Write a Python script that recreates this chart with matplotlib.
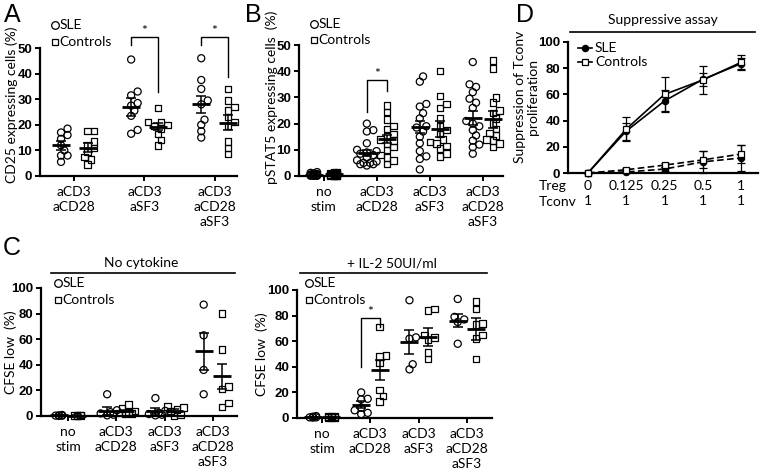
import matplotlib
matplotlib.use("Agg")
import matplotlib.pyplot as plt
import numpy as np

plt.rcParams['font.family'] = ['Lato', 'DejaVu Sans']

# ---------------- data ----------------
A_categories = ["aCD3\naCD28", "aCD3\naSF3", "aCD3\naCD28\naSF3"]
A_sle = [[18.5, 17, 16, 14.5, 12, 10, 8, 8, 5.5],
         [45.5, 33, 31.5, 28.5, 27.5, 25.5, 23.5, 18, 16.5],
         [46, 37.5, 34, 29.5, 28, 22, 20, 17.5, 15]]
A_ctrl = [[17.5, 17.5, 13.5, 12, 11, 9.5, 7.5, 6.5, 4.5],
          [26.5, 21, 21, 20, 19.5, 18.5, 16.5, 14, 12],
          [34, 29.5, 27, 25.5, 23, 21, 19.5, 13.5, 11, 8.5]]
A_sle_mean = [12, 27, 28]
A_sle_sem = [1.8, 3.5, 3.4]
A_ctrl_mean = [11, 19.3, 20.8]
A_ctrl_sem = [1.8, 1.4, 2.9]

B_categories = ["no\nstim", "aCD3\naCD28", "aCD3\naSF3", "aCD3\naCD28\naSF3"]
B_sle = [[1.5, 1.2, 1, 0.8, 0.6, 0.5, 0.4, 0.3, 0.3, 0.2, 0.2, 0.1, 0.1, 0.1, 0.1],
         [20, 17.5, 17, 12.5, 10, 9.5, 9, 8.5, 8, 7, 6, 5.5, 5, 5, 4.5, 4.5, 4],
         [38, 36, 27.5, 26.5, 24, 22, 19, 18.5, 17, 15, 12.5, 9.5, 7.5, 6.5, 2.5],
         [43.5, 35, 34, 32, 29.5, 28, 26, 20, 19, 21, 17.5, 15.5, 13.5, 12, 11, 8.5]]
B_ctrl = [[1.5, 1.5, 1.2, 1, 0.8, 0.6, 0.5, 0.4, 0.3, 0.2, 0.2, 0.1, 0.1, 0.1],
          [27, 24.5, 21.5, 19, 18, 16, 15, 14, 13.5, 12.5, 11, 10, 8, 7, 6, 4.5],
          [40, 30.5, 27.5, 26, 22, 19, 17.5, 16, 14, 13, 12.5, 11.5, 10.5, 8.5, 7.5],
          [44, 41, 30, 28, 25, 24, 22, 20, 18, 16.5, 15.5, 14, 13.5, 12.5, 11]]
B_sle_mean = [0.5, 8.8, 18.6, 22.2]
B_sle_sem = [0.15, 1.3, 2.3, 2.8]
B_ctrl_mean = [0.6, 14.2, 18, 21.6]
B_ctrl_sem = [0.15, 1.6, 3, 3.2]

C_categories = ["no\nstim", "aCD3\naCD28", "aCD3\naSF3", "aCD3\naCD28\naSF3"]
CL_sle = [[0.8, 0.5, 0.3, 0.2, 0.1], [17, 4.5, 3, 2, 1, 0.5],
          [14, 4, 2.5, 1.5, 1, 0.5], [87, 63, 36, 17]]
CL_ctrl = [[0.6, 0.4, 0.3, 0.2, 0.1], [9, 6, 4, 3, 2.5, 2, 1.5],
           [7.5, 6.5, 5, 4, 1, 0.5], [80, 52, 23, 21, 10, 7]]
CL_sle_mean = [0.4, 4, 3.9, 50.5]
CL_sle_sem = [0.2, 3, 2.1, 14.5]
CL_ctrl_mean = [0.3, 4, 4.2, 31]
CL_ctrl_sem = [0.1, 1, 1.2, 10]

CR_sle = [[1.5, 1, 0.5, 0.5, 0.3], [20, 15, 14.5, 8, 6, 4, 3],
          [92, 63, 62, 42, 38], [93, 79, 77, 75, 58]]
CR_ctrl = [[1.5, 1.2, 1, 0.8, 0.5, 0.3, 0.2], [71, 49, 48, 43, 22, 17, 13],
           [85, 84, 65, 63, 61, 51, 46], [91, 85, 74, 73, 65, 62, 46]]
CR_sle_mean = [0.7, 10.5, 59.5, 76]
CR_sle_sem = [0.3, 2.8, 9.5, 5.2]
CR_ctrl_mean = [0.8, 37.5, 63.5, 69.5]
CR_ctrl_sem = [0.2, 7.8, 7, 8.5]

D_treg = ["0", "0.125", "0.25", "0.5", "1"]
D_tconv = ["1", "1", "1", "1", "1"]
D_sle_solid = [0, 32, 55, 71.5, 83.5]
D_sle_solid_err = [0, 6.5, 8.5, 5, 4]
D_ctrl_solid = [0, 33.5, 60, 71, 84.5]
D_ctrl_solid_err = [0, 9, 13, 11, 5.5]
D_sle_dashed = [0, 0.8, 3, 8.5, 11.5]
D_sle_dashed_err = [0, 0.5, 1.5, 8.5, 10]
D_ctrl_dashed = [0, 2.5, 6, 10, 14.5]
D_ctrl_dashed_err = [0, 1, 1.5, 6.5, 7]

# ---------------- layout ----------------
W, H = 762, 474
fig = plt.figure(figsize=(W / 100, H / 100), dpi=100)


def add_ax(l, t, r, b):
    return fig.add_axes([l / W, 1 - b / H, (r - l) / W, (b - t) / H])


TICKFONT = dict(family='Liberation Sans', weight='bold', size=9.5)
FS = 10


def style_axes(ax):
    for s in ['top', 'right']:
        ax.spines[s].set_visible(False)
    for s in ['left', 'bottom']:
        ax.spines[s].set_linewidth(1.6)
    ax.tick_params(direction='out', length=3.5, width=1.4)
    ax.tick_params(axis='y', pad=2)
    ax.tick_params(axis='x', labelsize=FS, pad=4)


def swarm_x(ax, xc, ys, dpx=6.5, maxw=10):
    tr = ax.transData
    pts = tr.transform(np.column_stack([np.full(len(ys), xc), ys]))
    order = np.argsort(pts[:, 1])
    cands = [0.0]
    step = dpx * 0.5
    k = 1
    while k * step <= maxw:
        cands += [k * step, -k * step]
        k += 1
    placed = []
    out = np.zeros(len(ys))
    for i in order:
        px, py = pts[i]
        best = None
        bestd = -1
        bestc = px
        for c in cands:
            x = px + c
            if placed:
                dmin = min(np.hypot(x - qx, py - qy) for qx, qy in placed)
            else:
                dmin = 1e9
            if dmin >= dpx * 0.85:
                best = x
                break
            if dmin > bestd:
                bestd = dmin
                bestc = x
        if best is None:
            best = bestc
        placed.append((best, py))
        out[i] = best
    return tr.inverted().transform(np.column_stack([out, pts[:, 1]]))[:, 0]


def dotplot(ax, cats, sle, ctrl, sm, ss, cm, cs, xlim, ylim, yticks, off=0.19):
    ax.set_xlim(*xlim)
    ax.set_ylim(*ylim)
    style_axes(ax)
    ax.set_yticks(yticks)
    ax.set_yticklabels([str(v) for v in yticks], fontdict=TICKFONT)
    ax.set_xticks(range(len(cats)))
    ax.set_xticklabels(cats, fontsize=FS, linespacing=1.3)
    for i in range(len(cats)):
        for vals, mean, sem, mk, xo in [(sle[i], sm[i], ss[i], 'o', -off),
                                         (ctrl[i], cm[i], cs[i], 's', off)]:
            mw = 4 if max(vals) < 3 else 10
            xs = swarm_x(ax, i + xo, vals, maxw=mw)
            ax.scatter(xs, vals, marker=mk, s=26 if mk == 'o' else 22,
                       facecolors='none', edgecolors='black', linewidths=0.9,
                       zorder=3, clip_on=False)
            ax.errorbar(i + xo, mean, yerr=sem, fmt='none', ecolor='black',
                        elinewidth=1.1, capsize=3.5, capthick=1.1, zorder=4,
                        clip_on=False)
            ax.plot(i + xo, mean, marker='_', ms=13, mew=2, color='black',
                    zorder=5, clip_on=False)


def legend_sym(ax, x, y1, y2, fs=FS):
    ax.plot([x], [y1], marker='o', ms=5.5, mfc='none', mec='black', mew=0.9,
            transform=ax.transAxes, clip_on=False)
    ax.plot([x], [y2], marker='s', ms=5, mfc='none', mec='black', mew=0.9,
            transform=ax.transAxes, clip_on=False)
    ax.text(x + 0.022, y1, "SLE", transform=ax.transAxes, fontsize=fs, va='center')
    ax.text(x + 0.022, y2, "Controls", transform=ax.transAxes, fontsize=fs, va='center')


def bracket(ax, x1, x2, ytop, yl, yr):
    ax.plot([x1, x1, x2, x2], [yl, ytop, ytop, yr], color='black', lw=1.0,
            clip_on=False)
    ax.text((x1 + x2) / 2, ytop, "*", ha='center', va='bottom', fontsize=10)


def header(ax, x0, x1, yline, xt, yt, text):
    ax.plot([x0, x1], [yline, yline], color='black', lw=1.2,
            transform=ax.transAxes, clip_on=False)
    ax.text(xt, yt, text, transform=ax.transAxes, ha='center', va='center',
            fontsize=FS)


# ---------------- Panel A ----------------
axA = add_ax(40, 48, 237, 176)
dotplot(axA, A_categories, A_sle, A_ctrl, A_sle_mean, A_sle_sem,
        A_ctrl_mean, A_ctrl_sem, (-0.49, 2.32), (0, 50), [0, 10, 20, 30, 40, 50])
axA.set_ylabel("CD25 expressing cells (%)", fontsize=FS)
axA.yaxis.set_label_coords(-0.11, 0.56)
legend_sym(axA, 0.076, 1.18, 1.047)
bracket(axA, 1 - 0.19, 1 + 0.19, 54.4, 51.2, 33)
bracket(axA, 2 - 0.19, 2 + 0.19, 54.4, 51.2, 38.8)

# ---------------- Panel B ----------------
axB = add_ax(299, 45, 503, 176)
dotplot(axB, B_categories, B_sle, B_ctrl, B_sle_mean, B_sle_sem,
        B_ctrl_mean, B_ctrl_sem, (-0.47, 3.38), (0, 50), [0, 10, 20, 30, 40, 50])
axB.set_ylabel("pSTAT5 expressing cells  (%)", fontsize=FS)
axB.yaxis.set_label_coords(-0.105, 0.6)
legend_sym(axB, 0.075, 1.16, 1.04)
bracket(axB, 1 - 0.19, 1 + 0.19, 36.6, 24.3, 32.5)

# ---------------- Panel C left ----------------
axCL = add_ax(41, 288, 237, 416)
dotplot(axCL, C_categories, CL_sle, CL_ctrl, CL_sle_mean, CL_sle_sem,
        CL_ctrl_mean, CL_ctrl_sem, (-0.56, 3.5), (0, 100), [0, 20, 40, 60, 80, 100])
axCL.set_ylabel("CFSE low  (%)", fontsize=FS)
axCL.yaxis.set_label_coords(-0.12, 0.5)
legend_sym(axCL, 0.087, 1.04, 0.906)
header(axCL, 0.05, 0.99, 1.117, 0.513, 1.195, "No cytokine")

# ---------------- Panel C right ----------------
axCR = add_ax(297, 290, 492, 418)
dotplot(axCR, C_categories, CR_sle, CR_ctrl, CR_sle_mean, CR_sle_sem,
        CR_ctrl_mean, CR_ctrl_sem, (-0.52, 3.52), (0, 100), [0, 20, 40, 60, 80, 100])
axCR.set_ylabel("CFSE low  (%)", fontsize=FS)
axCR.yaxis.set_label_coords(-0.15, 0.5)
legend_sym(axCR, 0.062, 1.055, 0.92)
header(axCR, 0.015, 0.974, 1.133, 0.487, 1.21, "+ IL-2 50UI/ml")
bracket(axCR, 1 - 0.19, 1 + 0.19, 78, 39.7, 71)

# ---------------- Panel D ----------------
axD = add_ax(568, 42, 758, 173)
axD.set_xlim(-0.52, 4.44)
axD.set_ylim(0, 100)
style_axes(axD)
axD.set_yticks([0, 20, 40, 60, 80, 100])
axD.set_yticklabels(["0", "20", "40", "60", "80", "100"], fontdict=TICKFONT)
x = np.arange(len(D_treg))
axD.set_xticks(x)
axD.set_xticklabels([f"{a}\n{b}" for a, b in zip(D_treg, D_tconv)],
                    fontsize=FS, linespacing=1.35)
axD.tick_params(axis='x', length=0, pad=5)
for vals, err, mk, ls, mfc in [
        (D_sle_solid, D_sle_solid_err, 'o', '-', 'black'),
        (D_ctrl_solid, D_ctrl_solid_err, 's', '-', 'white'),
        (D_sle_dashed, D_sle_dashed_err, 'o', '--', 'black'),
        (D_ctrl_dashed, D_ctrl_dashed_err, 's', '--', 'white')]:
    axD.errorbar(x, vals, yerr=err, fmt='none', ecolor='black', elinewidth=0.9,
                 capsize=3, capthick=0.9, zorder=3, clip_on=False)
    axD.plot(x, vals, linestyle=ls, color='black', lw=1.2, marker=mk,
             ms=4.5 if mk == 'o' else 5, mfc=mfc, mec='black', mew=0.9,
             zorder=4, clip_on=False, dashes=(4, 2) if ls == '--' else (None, None))
axD.text(-1.28, -0.055, "Treg\nTconv", transform=axD.get_xaxis_transform(),
         ha='left', va='top', fontsize=FS, linespacing=1.35)
axD.set_ylabel("Suppression of Tconv\nproliferation", fontsize=FS, linespacing=1.2)
axD.yaxis.set_label_coords(-0.15, 0.58)
# legend
for yy, mk, mfc, lab in [(0.954, 'o', 'black', 'SLE'), (0.847, 's', 'white', 'Controls')]:
    axD.plot([0.053, 0.126], [yy, yy], color='black', lw=1.2, transform=axD.transAxes,
             clip_on=False)
    axD.plot([0.09], [yy], marker=mk, ms=4.5 if mk == 'o' else 5, mfc=mfc, mec='black',
             mew=0.9, transform=axD.transAxes, clip_on=False)
    axD.text(0.142, yy, lab, transform=axD.transAxes, va='center', fontsize=FS)
header(axD, 0.01, 0.984, 1.076, 0.5, 1.168, "Suppressive assay")

# ---------------- panel letters ----------------
for lab, px, py in [("A", 4, 3), ("B", 245, 3), ("C", 3, 236), ("D", 516, 3)]:
    fig.text(px / W, 1 - py / H, lab, ha='left', va='top', fontsize=18,
             family='Liberation Sans')

fig.savefig("out.png", dpi=100)
